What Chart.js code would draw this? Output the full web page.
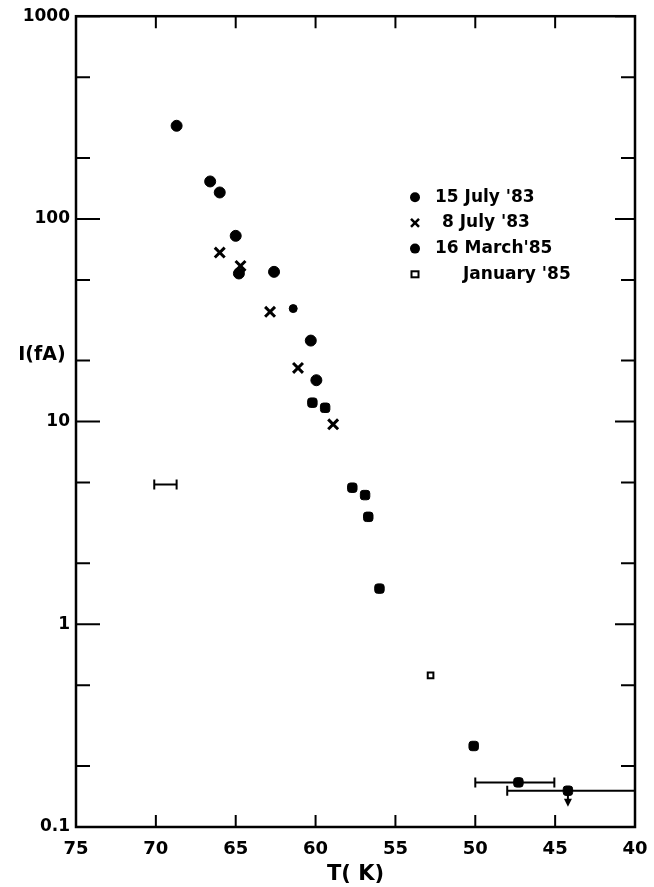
<!DOCTYPE html>
<html lang="en">
  <head>
    <meta charset="UTF-8" />
    <title>I vs T</title>
    <script src="https://cdn.jsdelivr.net/npm/chart.js"></script>
    <style>
      body { margin: 0; background: #fff; }
      #wrap { width: 654px; height: 887px; position: relative; }
    </style>
  </head>
  <body>
    <div id="wrap"><canvas id="plot"></canvas></div>
    <script>
      // data
      const july15T = [68.7, 66.6, 66.0, 65.0, 64.8, 62.6, 61.4, 60.3, 59.95];
      const july15I = [288, 153, 135, 82.5, 53.8, 54.8, 36.1, 25.1, 16.0];
      const july15R = [5.5, 5.5, 5.5, 5.5, 5.5, 5.5, 4, 5.5, 5.5];

      const july8T = [66.0, 64.7, 62.85, 61.1, 58.9];
      const july8I = [68.2, 58.6, 34.8, 18.4, 9.7];

      const march16T = [60.2, 59.4, 57.7, 56.9, 56.7, 56.0, 50.1, 47.3, 44.2];
      const march16I = [12.4, 11.7, 4.72, 4.34, 3.39, 1.5, 0.251, 0.166, 0.151];
      const upperLimitIdx = 8;

      const jan85T = [52.8];
      const jan85I = [0.56];

      // horizontal error bars (T from, T to, I)
      const errLo = [50.0, 48.0, 70.1];
      const errHi = [45.05, 40.0, 68.7];
      const errI = [0.166, 0.151, 4.9];

      const xTicks = [70, 65, 60, 55, 50, 45];
      const yMajor = [0.1, 1, 10, 100, 1000];
      const yMinor = [0.2, 0.5, 2, 5, 20, 50, 200, 500];

      const legendItems = [
        { text: "15 July '83", style: "circle", dx: 20 },
        { text: "8 July '83", style: "cross", dx: 27 },
        { text: "16 March'85", style: "circle", dx: 20 },
        { text: "January '85", style: "square", dx: 48 },
      ];

      const toPts = (xs, ys) => xs.map((x, i) => ({ x: x, y: ys[i] }));

      const errSets = errLo.map((lo, i) => ({
        type: "line",
        data: [{ x: lo, y: errI[i] }, { x: errHi[i], y: errI[i] }],
        borderColor: "#000",
        borderWidth: 2,
        pointStyle: "line",
        rotation: 90,
        pointRadius: errHi[i] <= 40 ? [5, 0] : 5,
        pointBorderWidth: 2,
        pointBorderColor: "#000",
        showLine: true,
        fill: false,
      }));

      const frame = {
        id: "frame",
        afterDraw(chart) {
          const { ctx, chartArea: a, scales } = chart;
          const xs = scales.x, ys = scales.y;
          ctx.save();
          ctx.strokeStyle = "#000";
          ctx.lineWidth = 2.5;
          ctx.strokeRect(a.left, a.top, a.right - a.left, a.bottom - a.top);

          ctx.lineWidth = 2;
          ctx.beginPath();
          xTicks.forEach((t) => {
            const px = xs.getPixelForValue(t);
            ctx.moveTo(px, a.bottom); ctx.lineTo(px, a.bottom - 12);
            ctx.moveTo(px, a.top); ctx.lineTo(px, a.top + 12);
          });
          yMajor.forEach((v) => {
            const py = ys.getPixelForValue(v);
            ctx.moveTo(a.left, py); ctx.lineTo(a.left + 24, py);
            ctx.moveTo(a.right, py); ctx.lineTo(a.right - 20, py);
          });
          yMinor.forEach((v) => {
            const py = ys.getPixelForValue(v);
            ctx.moveTo(a.left, py); ctx.lineTo(a.left + 14, py);
            ctx.moveTo(a.right, py); ctx.lineTo(a.right - 14, py);
          });
          ctx.stroke();

          // upper-limit arrow
          const ax = xs.getPixelForValue(march16T[upperLimitIdx]);
          const ay = ys.getPixelForValue(march16I[upperLimitIdx]);
          ctx.beginPath();
          ctx.moveTo(ax, ay); ctx.lineTo(ax, ay + 10);
          ctx.stroke();
          ctx.fillStyle = "#000";
          ctx.beginPath();
          ctx.moveTo(ax - 4, ay + 8); ctx.lineTo(ax + 4, ay + 8); ctx.lineTo(ax, ay + 16);
          ctx.closePath(); ctx.fill();

          // y-axis label (horizontal)
          ctx.font = "bold 19px 'DejaVu Sans'";
          ctx.textAlign = "center";
          ctx.textBaseline = "middle";
          ctx.fillText("I(fA)", a.left - 34, a.top + 0.418 * (a.bottom - a.top));

          // legend
          ctx.font = "bold 17px 'DejaVu Sans'";
          ctx.textAlign = "left";
          const lx = a.left + 339, ly = a.top + 181;
          legendItems.forEach((it, i) => {
            const y = ly + i * 25.7;
            ctx.lineWidth = 2.5;
            if (it.style === "circle") {
              ctx.beginPath(); ctx.arc(lx, y, 5, 0, Math.PI * 2); ctx.fill();
            } else if (it.style === "cross") {
              ctx.beginPath();
              ctx.moveTo(lx - 4, y - 4); ctx.lineTo(lx + 4, y + 4);
              ctx.moveTo(lx + 4, y - 4); ctx.lineTo(lx - 4, y + 4);
              ctx.stroke();
            } else {
              ctx.lineWidth = 2;
              ctx.strokeRect(lx - 3.5, y - 3, 7, 6);
            }
            ctx.fillText(it.text, lx + it.dx, y);
          });
          ctx.restore();
        },
      };

      const chart = new Chart(document.getElementById("plot"), {
        type: "scatter",
        data: {
          datasets: [
            ...errSets,
            {
              label: "15 July '83",
              data: toPts(july15T, july15I),
              pointStyle: "circle",
              pointRadius: july15R,
              backgroundColor: "#000",
              borderColor: "#000",
            },
            {
              label: "8 July '83",
              data: toPts(july8T, july8I),
              pointStyle: "crossRot",
              pointRadius: 7,
              borderWidth: 3,
              borderColor: "#000",
            },
            {
              label: "16 March '85",
              data: toPts(march16T, march16I),
              pointStyle: "rectRounded",
              pointRadius: 5.5,
              backgroundColor: "#000",
              borderColor: "#000",
            },
            {
              label: "January '85",
              data: toPts(jan85T, jan85I),
              pointStyle: "rect",
              pointRadius: 4,
              borderWidth: 2,
              backgroundColor: "#fff",
              borderColor: "#000",
            },
          ],
        },
        options: {
          responsive: true,
          maintainAspectRatio: false,
          animation: false,
          layout: { padding: { top: 16, right: 19, left: 0, bottom: 0 } },
          plugins: { legend: { display: false }, tooltip: { enabled: false } },
          scales: {
            x: {
              type: "linear",
              reverse: true,
              min: 40,
              max: 75,
              grid: { display: false, drawTicks: true, tickLength: 8 },
              border: { display: false },
              ticks: {
                stepSize: 5,
                color: "#000",
                padding: 4,
                font: { family: "DejaVu Sans", size: 18, weight: "bold" },
              },
              title: {
                display: true,
                text: "T( K)",
                color: "#000",
                padding: { top: 0, bottom: 0 },
                font: { family: "DejaVu Sans", size: 21, weight: "bold" },
              },
              afterFit(s) { s.height = 60; },
            },
            y: {
              type: "logarithmic",
              min: 0.1,
              max: 1000,
              grid: { display: false, drawTicks: false },
              border: { display: false },
              ticks: {
                color: "#000",
                padding: 6,
                autoSkip: false,
                font: { family: "DejaVu Sans", size: 17, weight: "bold" },
                callback: (v) => (yMajor.includes(Number(v)) ? String(v) : ""),
              },
              afterFit(s) { s.width = 76; },
            },
          },
        },
        plugins: [frame],
      });
    </script>
  </body>
</html>
